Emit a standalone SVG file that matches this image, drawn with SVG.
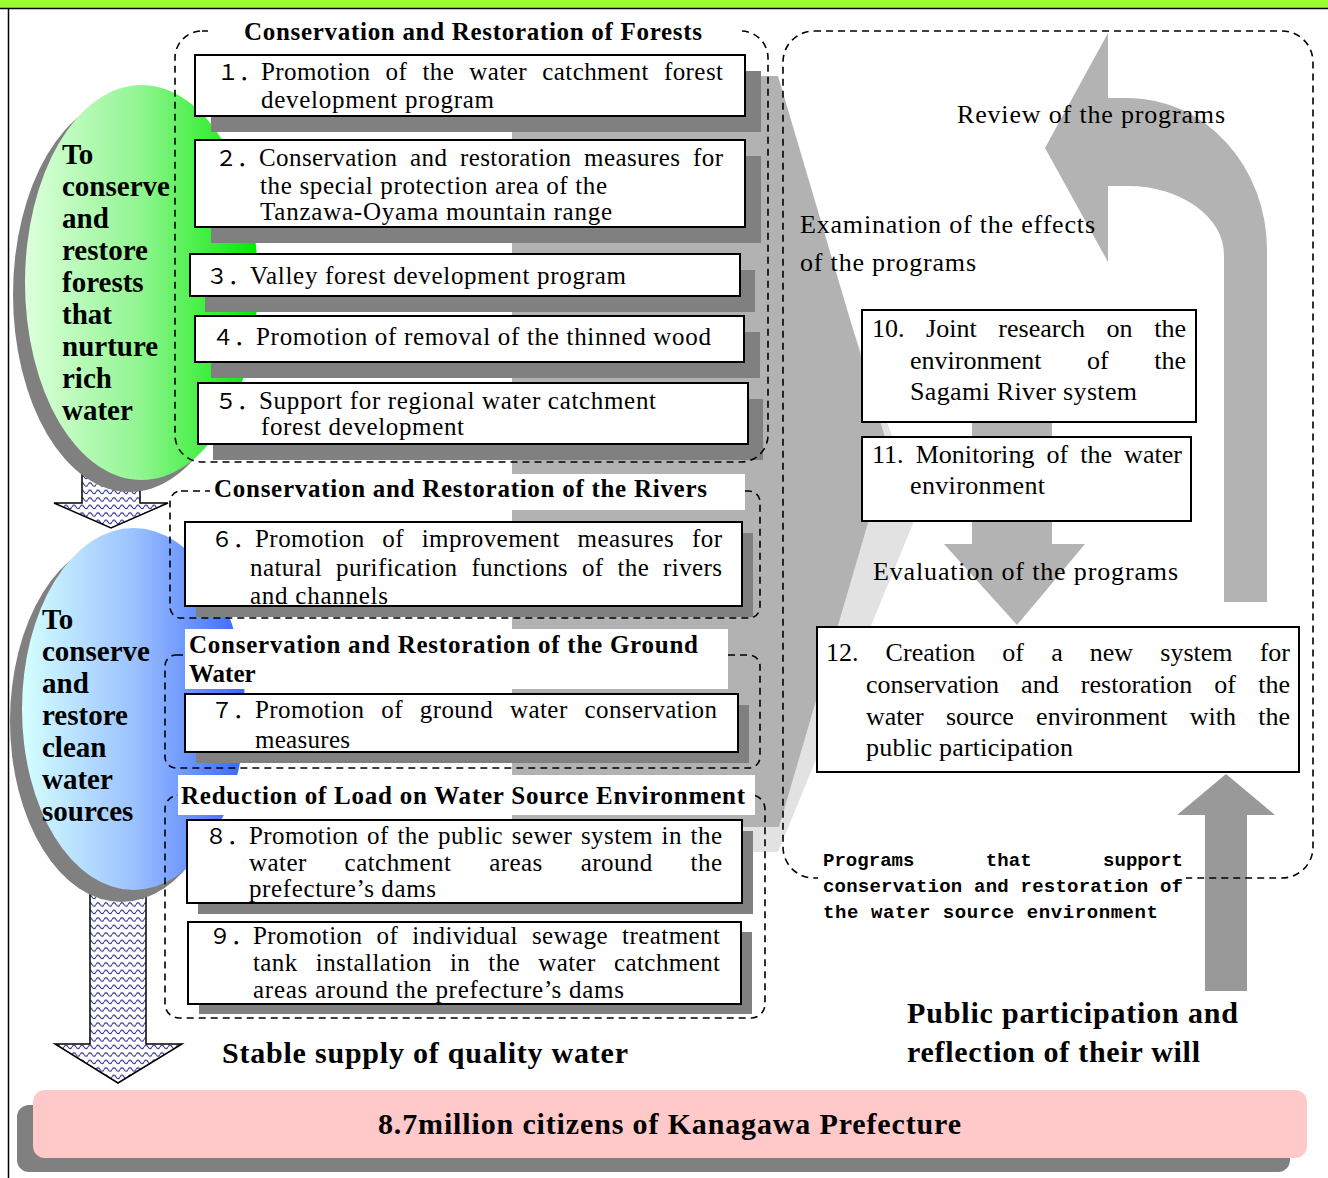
<svg xmlns="http://www.w3.org/2000/svg" width="1328" height="1178" viewBox="0 0 1328 1178">
<defs>
<linearGradient id="gGreen" x1="0" y1="0" x2="1" y2="0">
<stop offset="0" stop-color="#dcffdc"/><stop offset="0.5" stop-color="#90f590"/><stop offset="1" stop-color="#00ea00"/>
</linearGradient>
<linearGradient id="gBlue" x1="0" y1="0" x2="1" y2="0">
<stop offset="0" stop-color="#d4ffff"/><stop offset="0.5" stop-color="#9cc2ff"/><stop offset="1" stop-color="#3a66ff"/>
</linearGradient>
<pattern id="wave" width="8" height="7.5" patternUnits="userSpaceOnUse">
<rect width="8" height="7.5" fill="#ffffff"/>
<path d="M0 4.5 Q2 1 4 4.5 T8 4.5" fill="none" stroke="#2b2b8c" stroke-width="1.1"/>
</pattern>
<style>
.t{font-family:"Liberation Serif","Times New Roman",serif;font-size:26px;fill:#000}
.s{font-family:"Liberation Serif","Times New Roman",serif;font-size:25px;fill:#000}
.b{font-family:"Liberation Serif","Times New Roman",serif;font-weight:bold;fill:#000}
.n{font-family:"Noto Sans CJK JP","Noto Sans",sans-serif;font-size:22px;fill:#000}
.m{font-family:"Liberation Mono","Courier New",monospace;font-weight:bold;font-size:19px;fill:#000}
.box{fill:#fff;stroke:#000;stroke-width:2}
.sh{fill:#808080}
.dash{fill:none;stroke:#000;stroke-width:1.6;stroke-dasharray:7 5}
.wbg{fill:#fff}
.harrow{fill:url(#wave);stroke:#000;stroke-width:1.5}
</style>
</defs>

<g id="frame">
<rect x="0" y="0" width="1328" height="1178" fill="#fff"/>
<rect x="0" y="0" width="1328" height="8" fill="#99ff33"/>
<line x1="0" y1="8.5" x2="1328" y2="8.5" stroke="#000" stroke-width="1.5"/>
<line x1="8.5" y1="8" x2="8.5" y2="1178" stroke="#000" stroke-width="1.5"/>
</g>

<g id="connectors">
<polygon points="512,76 760,76 919,509 778,852 512,852" fill="#e2e2e2"/>
<polygon points="512,76 778,76 889,451 779,827 512,827" fill="#b2b2b2"/>
<path d="M1108,33 L1045,148 L1108,262 L1108,186 L1128,186 A96,69 0 0 1 1224,255 L1224,602 L1267,602 L1267,250 A139,152 0 0 0 1128,98 L1108,98 Z" fill="#b3b3b3"/>
<polygon points="972,400 1052,400 1052,544 1085,544 1017,625 944,544 972,544" fill="#b3b3b3"/>
<polygon points="1226,774 1275,815 1247,815 1247,991 1205,991 1205,815 1177,815" fill="#999999"/>
<polygon class="harrow" points="82,470 140,470 140,503 168,503 111,528 54,503 82,503"/>
<polygon class="harrow" points="90,870 146,870 146,1044 182,1044 118,1083 55,1044 90,1044"/>
</g>

<g id="forest-goal">
<ellipse cx="129.5" cy="294.5" rx="116.5" ry="197.5" fill="#808080"/>
<ellipse cx="141.5" cy="282.5" rx="116.5" ry="197.5" fill="url(#gGreen)"/>
</g>
<g id="water-goal">
<ellipse cx="121.5" cy="721" rx="111.5" ry="181" fill="#808080"/>
<ellipse cx="133.5" cy="709" rx="111.5" ry="181" fill="url(#gBlue)"/>
</g>

<g id="box1">
<rect class="sh" x="211" y="71" width="550" height="61"/>
<rect class="box" x="195" y="55" width="550" height="61"/>
<text class="n" x="217" y="80">１．</text>
<text class="s" x="261" y="80" word-spacing="8.5" textLength="462" lengthAdjust="spacing">Promotion of the water catchment forest</text>
<text class="s" x="261" y="108" textLength="233" lengthAdjust="spacing">development program</text>
</g>
<g id="box2">
<rect class="sh" x="211" y="156" width="550" height="87"/>
<rect class="box" x="195" y="140" width="550" height="87"/>
<text class="n" x="215" y="166">２．</text>
<text class="s" x="259" y="166" word-spacing="5.9" textLength="464" lengthAdjust="spacing">Conservation and restoration measures for</text>
<text class="s" x="260" y="194" textLength="347" lengthAdjust="spacing">the special protection area of the</text>
<text class="s" x="260" y="220" textLength="352" lengthAdjust="spacing">Tanzawa-Oyama mountain range</text>
</g>
<g id="box3">
<rect class="sh" x="205" y="270" width="550" height="42"/>
<rect class="box" x="190" y="254" width="550" height="42"/>
<text class="n" x="206" y="284">３．</text>
<text class="s" x="250" y="284" textLength="376" lengthAdjust="spacing">Valley forest development program</text>
</g>
<g id="box4">
<rect class="sh" x="211" y="332" width="549" height="46"/>
<rect class="box" x="195" y="316" width="549" height="46"/>
<text class="n" x="212" y="345">４．</text>
<text class="s" x="256" y="345" textLength="455" lengthAdjust="spacing">Promotion of removal of the thinned wood</text>
</g>
<g id="box5">
<rect class="sh" x="213" y="399" width="550" height="61"/>
<rect class="box" x="198" y="383" width="550" height="61"/>
<text class="n" x="215" y="409">５．</text>
<text class="s" x="259" y="409" textLength="397" lengthAdjust="spacing">Support for regional water catchment</text>
<text class="s" x="261" y="435" textLength="203" lengthAdjust="spacing">forest development</text>
</g>
<g id="forest-group">
<rect class="dash" x="175" y="31" width="593" height="431" rx="27"/>
<rect class="wbg" x="208" y="14" width="534" height="34"/>
<text class="b" x="244" y="40" font-size="25" textLength="458" lengthAdjust="spacing">Conservation and Restoration of Forests</text>
</g>

<g id="box6">
<rect class="sh" x="196" y="533" width="557" height="84"/>
<rect class="box" x="185" y="522" width="557" height="84"/>
<text class="n" x="211" y="547">６．</text>
<text class="s" x="255" y="547" word-spacing="10.95" textLength="467" lengthAdjust="spacing">Promotion of improvement measures for</text>
<text class="s" x="250" y="576" word-spacing="7.3" textLength="472" lengthAdjust="spacing">natural purification functions of the rivers</text>
<text class="s" x="250" y="604" textLength="138" lengthAdjust="spacing">and channels</text>
</g>
<g id="rivers-group">
<rect class="dash" x="170" y="491" width="590" height="127" rx="11"/>
<rect class="wbg" x="210" y="474" width="535" height="36"/>
<text class="b" x="214" y="497" font-size="25" textLength="493" lengthAdjust="spacing">Conservation and Restoration of the Rivers</text>
</g>

<g id="box7">
<rect class="sh" x="196" y="705" width="553" height="58"/>
<rect class="box" x="185" y="694" width="553" height="58"/>
<text class="n" x="211" y="718">７．</text>
<text class="s" x="255" y="718" word-spacing="10.1" textLength="462" lengthAdjust="spacing">Promotion of ground water conservation</text>
<text class="s" x="255" y="748" textLength="95" lengthAdjust="spacing">measures</text>
</g>
<g id="ground-group">
<rect class="dash" x="165" y="655" width="595" height="113" rx="11"/>
<rect class="wbg" x="185" y="629" width="543" height="60"/>
<text class="b" x="189" y="653" font-size="25" textLength="509" lengthAdjust="spacing">Conservation and Restoration of the Ground</text>
<text class="b" x="189" y="682" font-size="25">Water</text>
</g>

<g id="box8">
<rect class="sh" x="198" y="831" width="555" height="83"/>
<rect class="box" x="187" y="820" width="555" height="83"/>
<text class="n" x="205" y="844">８．</text>
<text class="s" x="249" y="844" word-spacing="2" textLength="473" lengthAdjust="spacing">Promotion of the public sewer system in the</text>
<text class="s" x="249" y="871" word-spacing="31.2" textLength="473" lengthAdjust="spacing">water catchment areas around the</text>
<text class="s" x="249" y="897" textLength="187" lengthAdjust="spacing">prefecture’s dams</text>
</g>
<g id="box9">
<rect class="sh" x="199" y="932" width="553" height="82"/>
<rect class="box" x="188" y="922" width="553" height="82"/>
<text class="n" x="209" y="944">９．</text>
<text class="s" x="253" y="944" word-spacing="7.35" textLength="467" lengthAdjust="spacing">Promotion of individual sewage treatment</text>
<text class="s" x="253" y="971" word-spacing="11.5" textLength="467" lengthAdjust="spacing">tank installation in the water catchment</text>
<text class="s" x="253" y="998" textLength="371" lengthAdjust="spacing">areas around the prefecture’s dams</text>
</g>
<g id="reduction-group">
<rect class="dash" x="165" y="795" width="600" height="223" rx="14"/>
<rect class="wbg" x="178" y="775" width="577" height="40"/>
<text class="b" x="181" y="804" font-size="25" textLength="564" lengthAdjust="spacing">Reduction of Load on Water Source Environment</text>
</g>

<g id="goal-texts">
<text class="b" font-size="29"><tspan x="62" y="164">To</tspan><tspan x="62" y="196">conserve</tspan><tspan x="62" y="228">and</tspan><tspan x="62" y="260">restore</tspan><tspan x="62" y="292">forests</tspan><tspan x="62" y="324">that</tspan><tspan x="62" y="356">nurture</tspan><tspan x="62" y="388">rich</tspan><tspan x="62" y="420">water</tspan></text>
<text class="b" font-size="29"><tspan x="42" y="629">To</tspan><tspan x="42" y="661">conserve</tspan><tspan x="42" y="693">and</tspan><tspan x="42" y="725">restore</tspan><tspan x="42" y="757">clean</tspan><tspan x="42" y="789">water</tspan><tspan x="42" y="821">sources</tspan></text>
</g>

<g id="evaluation-cycle">
<rect class="dash" x="783" y="31" width="530" height="847" rx="31"/>
<text class="t" x="957" y="123" textLength="268" lengthAdjust="spacing">Review of the programs</text>
<text class="t" x="800" y="233" textLength="295" lengthAdjust="spacing">Examination of the effects</text>
<text class="t" x="800" y="271" textLength="176" lengthAdjust="spacing">of the programs</text>
<text class="t" x="873" y="580" textLength="305" lengthAdjust="spacing">Evaluation of the programs</text>
<rect class="wbg" x="818" y="868" width="368" height="30"/>
<text class="m" x="823" y="866" word-spacing="60" textLength="360" lengthAdjust="spacing">Programs that support</text>
<text class="m" x="823" y="892" textLength="360" lengthAdjust="spacing">conservation and restoration of</text>
<text class="m" x="823" y="918" textLength="335" lengthAdjust="spacing">the water source environment</text>
</g>
<g id="box10">
<rect class="box" x="862" y="310" width="334" height="112"/>
<text class="t" x="872" y="337" word-spacing="15.1" textLength="314" lengthAdjust="spacing">10. Joint research on the</text>
<text class="t" x="910" y="369" word-spacing="39" textLength="276" lengthAdjust="spacing">environment of the</text>
<text class="t" x="910" y="400" textLength="227" lengthAdjust="spacing">Sagami River system</text>
</g>
<g id="box11">
<rect class="box" x="862" y="437" width="329" height="84"/>
<text class="t" x="872" y="463" word-spacing="5.5" textLength="310" lengthAdjust="spacing">11. Monitoring of the water</text>
<text class="t" x="910" y="494" textLength="135" lengthAdjust="spacing">environment</text>
</g>
<g id="box12">
<rect class="box" x="817" y="627" width="482" height="145"/>
<text class="t" x="826" y="661" word-spacing="20.6" textLength="464" lengthAdjust="spacing">12. Creation of a new system for</text>
<text class="t" x="866" y="693" word-spacing="15.7" textLength="424" lengthAdjust="spacing">conservation and restoration of the</text>
<text class="t" x="866" y="725" word-spacing="15.7" textLength="424" lengthAdjust="spacing">water source environment with the</text>
<text class="t" x="866" y="756" textLength="207" lengthAdjust="spacing">public participation</text>
</g>

<g id="labels">
<text class="b" x="222" y="1063" font-size="30" textLength="406" lengthAdjust="spacing">Stable supply of quality water</text>
<text class="b" x="907" y="1023" font-size="30" textLength="331" lengthAdjust="spacing">Public participation and</text>
<text class="b" x="907" y="1062" font-size="30" textLength="293" lengthAdjust="spacing">reflection of their will</text>
</g>

<g id="citizens">
<rect x="17" y="1105" width="1273" height="67" rx="12" fill="#808080"/>
<rect x="33" y="1090" width="1274" height="68" rx="12" fill="#ffc9c9"/>
<text class="b" x="378" y="1134" font-size="30" textLength="583" lengthAdjust="spacing">8.7million citizens of Kanagawa Prefecture</text>
</g>
</svg>
